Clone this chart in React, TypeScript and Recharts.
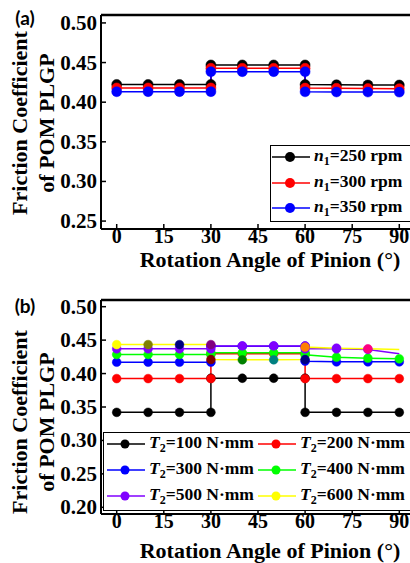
import React from 'react';
import { LineChart, Line, XAxis, YAxis, ReferenceLine } from 'recharts';

const angles = [0, 10, 20, 30, 30, 40, 50, 60, 60, 70, 80, 90];
const xTicks = [0, 15, 30, 45, 60, 75, 90];
const yTicksA = [0.25, 0.3, 0.35, 0.4, 0.45, 0.5];
const yTicksB = [0.2, 0.25, 0.3, 0.35, 0.4, 0.45, 0.5];

// Panel (a): rotational speed n1
const n250 = [0.4224, 0.4224, 0.4224, 0.4224, 0.447, 0.447, 0.447, 0.447, 0.4222, 0.4219, 0.4218, 0.4217];
const n300 = [0.418, 0.418, 0.418, 0.418, 0.4428, 0.4428, 0.4428, 0.4428, 0.4178, 0.4175, 0.4172, 0.417];
const n350 = [0.4132, 0.4133, 0.4133, 0.4133, 0.4385, 0.4385, 0.4385, 0.4385, 0.4131, 0.4129, 0.4128, 0.4127];

// Panel (b): torque T2
const t100 = [0.342, 0.342, 0.342, 0.342, 0.393, 0.393, 0.393, 0.393, 0.342, 0.342, 0.342, 0.342];
const t200 = [0.3925, 0.3925, 0.3925, 0.3925, 0.4295, 0.4295, 0.4295, 0.4295, 0.3925, 0.3925, 0.3925, 0.3925];
const t300 = [0.417, 0.417, 0.417, 0.417, 0.441, 0.441, 0.441, 0.441, 0.4185, 0.4175, 0.4175, 0.4175];
const t400 = [0.4285, 0.4285, 0.4285, 0.4285, 0.431, 0.431, 0.431, 0.431, 0.428, 0.4245, 0.423, 0.422];
const t500 = [0.437, 0.437, 0.437, 0.437, 0.4413, 0.4413, 0.4413, 0.4413, 0.437, 0.437, 0.436, 0.4295];
const t600 = [0.4433, 0.4433, 0.4433, 0.4433, 0.421, 0.4206, 0.4206, 0.421, 0.4395, 0.438, 0.437, 0.436];

const seriesA = [
  { name: 'n', sub: '1', rest: '=250 rpm', values: n250, color: '#000000' },
  { name: 'n', sub: '1', rest: '=300 rpm', values: n300, color: '#ff0000' },
  { name: 'n', sub: '1', rest: '=350 rpm', values: n350, color: '#0000ff' },
];
const seriesB = [
  { name: 'T', sub: '2', rest: '=100 N·mm', values: t100, color: '#000000' },
  { name: 'T', sub: '2', rest: '=200 N·mm', values: t200, color: '#ff0000' },
  { name: 'T', sub: '2', rest: '=300 N·mm', values: t300, color: '#0000ff' },
  { name: 'T', sub: '2', rest: '=400 N·mm', values: t400, color: '#00ff00' },
  { name: 'T', sub: '2', rest: '=500 N·mm', values: t500, color: '#8000ff' },
  { name: 'T', sub: '2', rest: '=600 N·mm', values: t600, color: '#ffff00' },
];

// marker colour overrides seen in the reference (style only)
const markerOverrides: Record<string, (string | null)[]> = {
  '=500 N·mm': [null, null, null, null, null, null, null, null, null, null, null, 'none'],
  '=600 N·mm': [null, '#808000', '#000080', '#800080', '#800000', '#008000', '#008080', '#000080', '#ff8000', '#8000ff', '#ff0080', 'none'],
};

const SERIF = "'Liberation Serif', 'Times New Roman', serif";
const TICK_FS = 20;

const toPoints = (vals: number[]) => angles.map((x, i) => ({ x, y: vals[i] }));

const makeDot = (color: string, r: number, overrides?: (string | null)[]) => (props: any) => {
  const { cx, cy, index } = props;
  const c = (overrides && overrides[index]) || color;
  if (c === 'none' || cx == null || cy == null) return <g key={`d${index}`} />;
  return <circle key={`d${index}`} cx={cx} cy={cy} r={r} fill={c} stroke={c} strokeWidth={0.5} />;
};

const YTick = (props: any) => {
  const { x, y, payload } = props;
  return (
    <g>
      <line x1={x} x2={x + 5} y1={y} y2={y} stroke="#000" strokeWidth={1.5} />
      <text x={x - 4} y={y} textAnchor="end" dominantBaseline="central" fontFamily={SERIF} fontWeight="bold" fontSize={21} fill="#000">
        {Number(payload.value).toFixed(2)}
      </text>
    </g>
  );
};

const XTick = (props: any) => {
  const { x, y, payload } = props;
  return (
    <g>
      <line x1={x} x2={x} y1={y} y2={y - 5} stroke="#000" strokeWidth={1.5} />
      <text x={x} y={y + 14} textAnchor="middle" fontFamily={SERIF} fontWeight="bold" fontSize={TICK_FS} fill="#000">
        {payload.value}
      </text>
    </g>
  );
};

const Panel = ({ top, series, domain, yTicks, r }: any) => (
  <div style={{ position: 'absolute', left: 0, top, width: 440, height: 270 }}>
    <LineChart width={440} height={270} margin={{ top: 15, right: 25, left: 0, bottom: 11 }}>
      <XAxis
        dataKey="x"
        type="number"
        domain={[-5, 95]}
        ticks={xTicks}
        allowDuplicatedCategory
        height={30}
        tickSize={0}
        tickMargin={0}
        tickLine={false}
        axisLine={{ stroke: '#000', strokeWidth: 2 }}
        tick={<XTick />}
        interval={0}
      />
      <YAxis
        type="number"
        domain={domain}
        ticks={yTicks}
        width={101}
        tickSize={0}
        tickMargin={0}
        tickLine={false}
        axisLine={{ stroke: '#000', strokeWidth: 2 }}
        tick={<YTick />}
        interval={0}
        allowDataOverflow
      />
      <ReferenceLine y={domain[1]} stroke="#000" strokeWidth={2.5} />
      {series.map((s: any) => (
        <Line
          key={s.rest}
          data={toPoints(s.values)}
          dataKey="y"
          type="linear"
          stroke={s.color}
          strokeWidth={1.5}
          dot={makeDot(s.color, r, markerOverrides[s.rest])}
          activeDot={false}
          isAnimationActive={false}
        />
      ))}
    </LineChart>
  </div>
);

const LegendEntry = ({ s, left, cy, r }: any) => (
  <div style={{ position: 'absolute', left, top: cy - 11, height: 22, display: 'flex', alignItems: 'center', whiteSpace: 'nowrap' }}>
    <svg width={38} height={14} style={{ display: 'block' }}>
      <line x1={0} x2={38} y1={7} y2={7} stroke={s.color} strokeWidth={1.5} />
      <circle cx={18} cy={7} r={r} fill={s.color} />
    </svg>
    <span style={{ marginLeft: 4, fontFamily: SERIF, fontWeight: 'bold', fontSize: 17.5, lineHeight: 1 }}>
      <i>{s.name}</i>
      <sub style={{ fontSize: 12, verticalAlign: -4 }}>{s.sub}</sub>
      {s.rest}
    </span>
  </div>
);

const textStyle: React.CSSProperties = {
  position: 'absolute',
  fontFamily: SERIF,
  fontWeight: 'bold',
  fontSize: 22,
  lineHeight: 1,
  whiteSpace: 'nowrap',
  color: '#000',
};

const YTitle = ({ cy }: { cy: number }) => (
  <>
    <div style={{ ...textStyle, left: 20, top: cy, transform: 'translate(-50%, -50%) rotate(-90deg)' }}>Friction Coefficient</div>
    <div style={{ ...textStyle, left: 47, top: cy, transform: 'translate(-50%, -50%) rotate(-90deg)' }}>of POM PLGP</div>
  </>
);

export default function App() {
  return (
    <div style={{ position: 'absolute', left: 0, top: 0, width: 410, height: 563, overflow: 'hidden', background: '#fff' }}>
      <Panel top={0} series={seriesA} domain={[0.24, 0.51]} yTicks={yTicksA} r={5} />
      <Panel top={285} series={seriesB} domain={[0.19, 0.51]} yTicks={yTicksB} r={4.4} />

      {/* legend (a) */}
      <div style={{ position: 'absolute', left: 270, top: 145, width: 160, height: 75, border: '1.5px solid #000', background: '#fff' }} />
      {seriesA.map((s, i) => (
        <LegendEntry key={s.rest} s={s} left={272} cy={157 + i * 25.5} r={5} />
      ))}

      {/* legend (b) */}
      <div style={{ position: 'absolute', left: 103, top: 432, width: 330, height: 77, border: '1.5px solid #000', background: '#fff' }} />
      {seriesB.map((s, i) => (
        <LegendEntry key={s.rest} s={s} left={i % 2 === 0 ? 107 : 258} cy={444 + Math.floor(i / 2) * 26} r={4.5} />
      ))}

      <YTitle cy={123} />
      <YTitle cy={422} />
      <div style={{ ...textStyle, left: 270, top: 259.5, transform: 'translate(-50%, -50%)' }}>Rotation Angle of Pinion (°)</div>
      <div style={{ ...textStyle, left: 270, top: 551, transform: 'translate(-50%, -50%)' }}>Rotation Angle of Pinion (°)</div>

      <div style={{ position: 'absolute', left: 25, top: 17, transform: 'translate(-50%, -50%)', fontFamily: "Lato, 'Open Sans', sans-serif", fontWeight: 'bold', fontSize: 19, lineHeight: 1 }}>(a)</div>
      <div style={{ position: 'absolute', left: 25, top: 305, transform: 'translate(-50%, -50%)', fontFamily: "Lato, 'Open Sans', sans-serif", fontWeight: 'bold', fontSize: 19, lineHeight: 1 }}>(b)</div>
    </div>
  );
}
